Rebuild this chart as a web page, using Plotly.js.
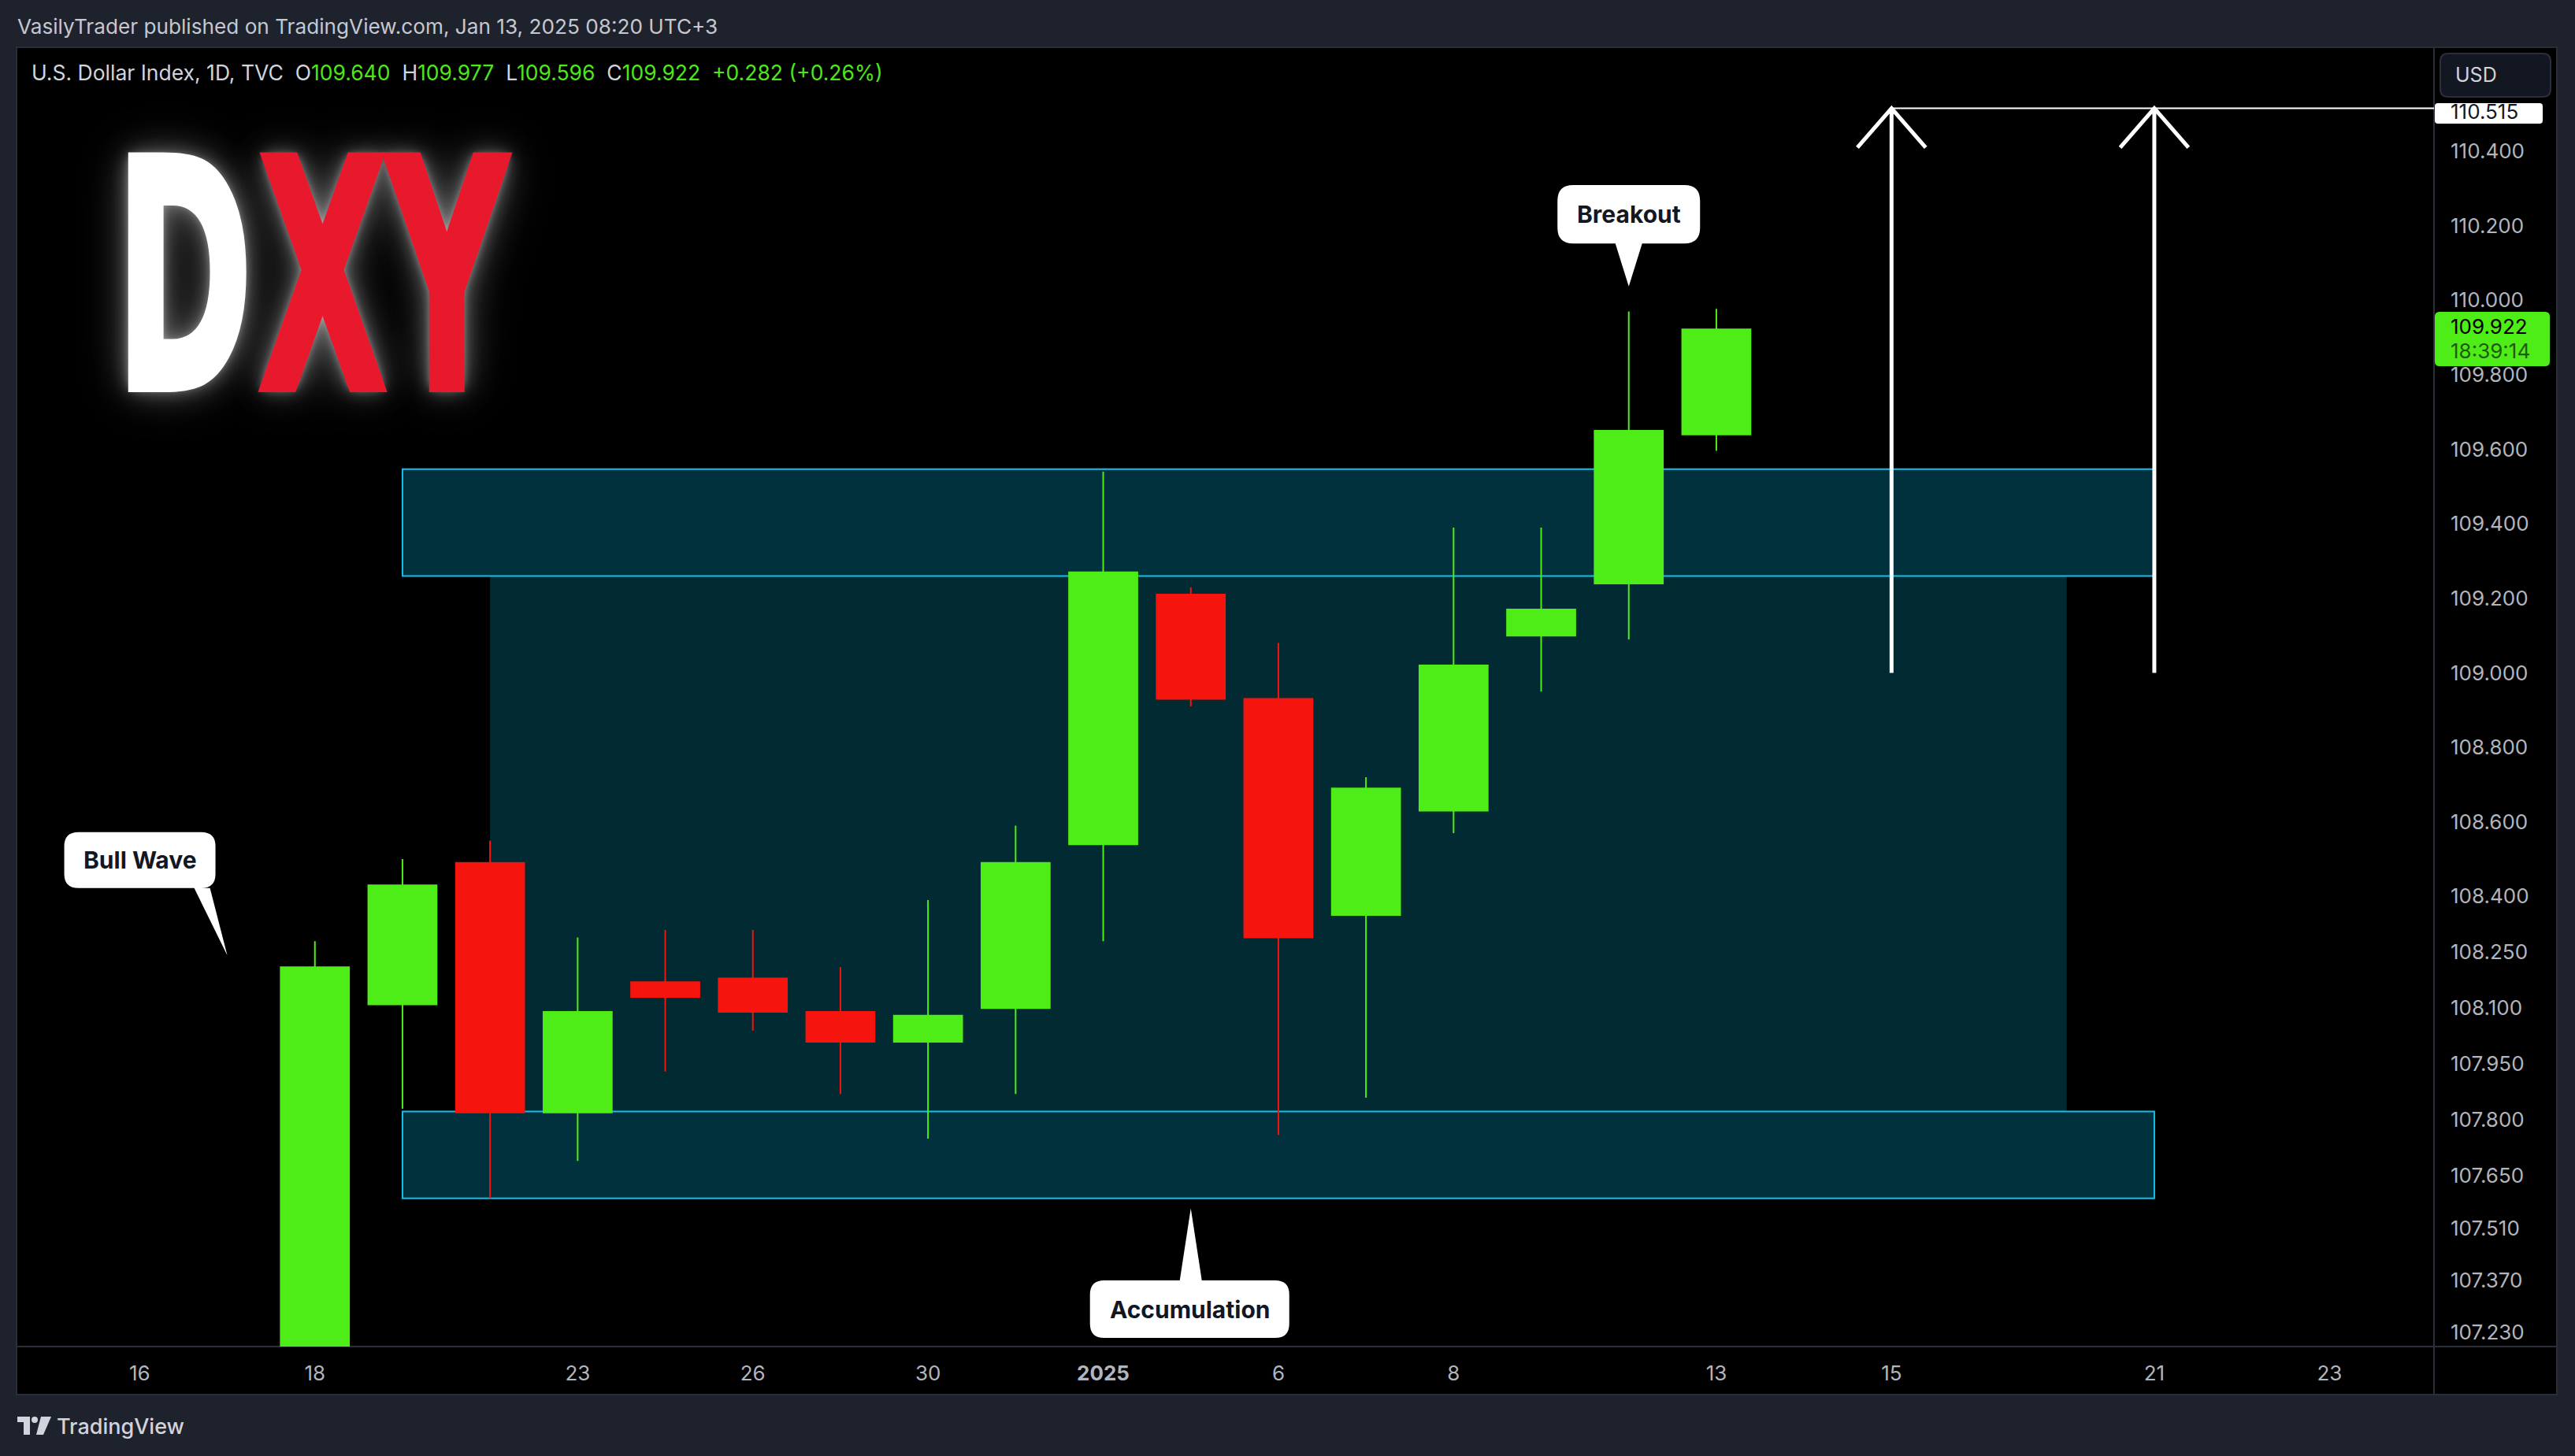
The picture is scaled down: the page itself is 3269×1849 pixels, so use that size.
<!DOCTYPE html>
<html><head><meta charset="utf-8">
<script src="https://cdn.plot.ly/plotly-3.0.1.min.js"></script>
<style>
html,body{margin:0;padding:0;background:#1e222d;overflow:hidden;}
#chart{position:absolute;left:0;top:0;width:3269px;height:1849px;}
#logo{position:absolute;left:146px;top:151px;font-family:'DejaVu Sans';font-weight:bold;font-size:404px;line-height:1;white-space:nowrap;transform:scaleX(0.522);transform-origin:0 0;-webkit-text-stroke:10px currentColor;text-shadow:0 0 14px rgba(255,255,255,0.45),0 0 34px rgba(255,255,255,0.4),0 0 70px rgba(255,255,255,0.3),0 0 100px rgba(255,255,255,0.15);pointer-events:none;}
#logo .d{color:#ffffff;margin-right:14px}
#logo .xy{color:#e8192c}
</style></head><body>
<div id="chart"></div>
<div id="logo"><span class="d">D</span><span class="xy">XY</span></div>
<script>
// ---------- data ----------
const sessions = ['2024-12-16','2024-12-17','2024-12-18','2024-12-19','2024-12-20','2024-12-23','2024-12-24','2024-12-26','2024-12-27','2024-12-30','2024-12-31','2025-01-02','2025-01-03','2025-01-06','2025-01-07','2025-01-08','2025-01-09','2025-01-10','2025-01-13','2025-01-14','2025-01-15','2025-01-16','2025-01-17','2025-01-21','2025-01-22','2025-01-23'];
const candleDates = ['2024-12-18','2024-12-19','2024-12-20','2024-12-23','2024-12-24','2024-12-26','2024-12-27','2024-12-30','2024-12-31','2025-01-02','2025-01-03','2025-01-06','2025-01-07','2025-01-08','2025-01-09','2025-01-10','2025-01-13'];
const openPx  = [106.95,108.11,108.49,107.82,108.17,108.18,108.09,108.01,108.10,108.54,109.21,108.93,108.35,108.63,109.10,109.24,109.640];
const highPx  = [108.28,108.50,108.55,108.29,108.31,108.31,108.21,108.39,108.59,109.54,109.23,109.08,108.72,109.39,109.39,109.97,109.977];
const lowPx   = [106.88,107.83,107.59,107.69,107.93,108.04,107.87,107.75,107.87,108.28,108.91,107.76,107.86,108.57,108.95,109.09,109.596];
const closePx = [108.21,108.43,107.82,108.09,108.13,108.09,108.01,108.08,108.49,109.27,108.93,108.29,108.69,109.02,109.17,109.65,109.922];
const timeTickDates  = ['2024-12-16','2024-12-18','2024-12-23','2024-12-26','2024-12-30','2025-01-02','2025-01-06','2025-01-08','2025-01-13','2025-01-15','2025-01-21','2025-01-23'];
const timeTickLabels = ['16','18','23','26','30','2025','6','8','13','15','21','23'];
const priceTicks      = [110.4,110.2,110.0,109.8,109.6,109.4,109.2,109.0,108.8,108.6,108.4,108.25,108.1,107.95,107.8,107.65,107.51,107.37,107.23];
const priceTickLabels = ['110.400','110.200','110.000','109.800','109.600','109.400','109.200','109.000','108.800','108.600','108.400','108.250','108.100','107.950','107.800','107.650','107.510','107.370','107.230'];
const resistanceZone = [109.26, 109.547];
const supportZone    = [107.59, 107.823];
const zoneDates      = ['2024-12-19','2025-01-21'];
const rangeDates     = ['2024-12-20','2025-01-17'];
const targetLevel = 110.515;
const arrowBase   = 109.0;
const arrowDates  = ['2025-01-15','2025-01-21'];
const lastPrice = '109.922', countdown = '18:39:14';

// ---------- helpers ----------
const W=3269,H=1849,L=22,R=3090,T=60,B=1710;
const px = v => (v-L)/(R-L);
const py = v => (B-v)/(B-T);
const xIdx = d => sessions.indexOf(d);
const green='#4fed17', red='#f5140e';

function rrPaper(x0,y0,x1,y1,r){
  const P=(x,y)=>px(x)+','+py(y);
  return `M${P(x0+r,y0)} L${P(x1-r,y0)} Q${P(x1,y0)} ${P(x1,y0+r)} L${P(x1,y1-r)} Q${P(x1,y1)} ${P(x1-r,y1)} L${P(x0+r,y1)} Q${P(x0,y1)} ${P(x0,y1-r)} L${P(x0,y0+r)} Q${P(x0,y0)} ${P(x0+r,y0)} Z`;
}
function bubblePath(b){
  const {x0,x1,yb,yt,r}=b; const Q=(x,y)=>x+','+y;
  let p=`M${Q(x0+r,yt)}`;
  if(b.side==='top') p+=` L${Q(b.ptr[0],yt)} L${Q(0,0)} L${Q(b.ptr[1],yt)}`;
  p+=` L${Q(x1-r,yt)} Q${Q(x1,yt)} ${Q(x1,yt-r)} L${Q(x1,yb+r)} Q${Q(x1,yb)} ${Q(x1-r,yb)}`;
  if(b.side==='bottom') p+=` L${Q(b.ptr[1],yb)} L${Q(0,0)} L${Q(b.ptr[0],yb)}`;
  p+=` L${Q(x0+r,yb)} Q${Q(x0,yb)} ${Q(x0,yb+r)} L${Q(x0,yt-r)} Q${Q(x0,yt)} ${Q(x0+r,yt)} Z`;
  return p;
}

const callouts = [
  {text:'Breakout', date:'2025-01-10', price:110.037, x0:-90.5, x1:90.5, yb:54.5, yt:128.7, r:20, side:'bottom', ptr:[-17,17]},
  {text:'Bull Wave', date:'2024-12-17', price:108.242, x0:-207, x1:-15, yb:85.4, yt:156.4, r:18, side:'bottom', ptr:[-42,-22]},
  {text:'Accumulation', date:'2025-01-03', price:107.563, x0:-128, x1:125, yb:-164.6, yt:-91.6, r:18, side:'top', ptr:[-14,14]}
];

// ---------- shapes ----------
const frame='#1e222d', sep='#2a2e39';
const shapes = [];
const pr = (x0,y0,x1,y1,fill)=>({type:'rect',xref:'paper',yref:'paper',x0:px(x0),x1:px(x1),y0:py(y0),y1:py(y1),fillcolor:fill,line:{width:0},layer:'below'});
shapes.push(pr(0,0,W,60,frame), pr(0,0,21,H,frame), pr(3246,0,W,H,frame), pr(0,1771,W,H,frame));
shapes.push({type:'rect',xref:'paper',yref:'paper',x0:px(21),x1:px(3246),y0:py(60),y1:py(1771),line:{color:sep,width:2},layer:'below'});
shapes.push({type:'line',xref:'paper',yref:'paper',x0:px(3090),x1:px(3090),y0:py(60),y1:py(1771),line:{color:sep,width:2},layer:'below'});
shapes.push({type:'line',xref:'paper',yref:'paper',x0:px(21),x1:px(3246),y0:py(1710),y1:py(1710),line:{color:sep,width:2},layer:'below'});

// zones
shapes.push({type:'rect',xref:'x',yref:'y',x0:xIdx(rangeDates[0]),x1:xIdx(rangeDates[1]),y0:supportZone[1],y1:resistanceZone[0],fillcolor:'#012a33',line:{width:0},layer:'below'});
[resistanceZone,supportZone].forEach(z=>shapes.push({type:'rect',xref:'x',yref:'y',x0:xIdx(zoneDates[0]),x1:xIdx(zoneDates[1]),y0:z[0],y1:z[1],fillcolor:'#00313d',line:{color:'#12c1eb',width:2},layer:'below'}));

// arrows and target line
const xr=[-1.397,26.193];
shapes.push({type:'line',xref:'x',yref:'y',x0:xIdx(arrowDates[0]),x1:xr[1],y0:targetLevel,y1:targetLevel,line:{color:'#ffffff',width:2},layer:'above'});
arrowDates.forEach(d=>{const x=xIdx(d);
  shapes.push({type:'path',xref:'x',yref:'y',path:`M${x},${arrowBase} L${x},${targetLevel} M${x-0.39},${targetLevel-0.105} L${x},${targetLevel} L${x+0.39},${targetLevel-0.105}`,line:{color:'#ffffff',width:5},layer:'above'});
});

// callout bubbles
const annotations=[];
callouts.forEach(c=>{
  shapes.push({type:'path',xref:'x',yref:'y',xsizemode:'pixel',ysizemode:'pixel',xanchor:xIdx(c.date),yanchor:c.price,path:bubblePath(c),fillcolor:'#ffffff',line:{width:0},layer:'above'});
  annotations.push({xref:'x',yref:'y',x:xIdx(c.date),y:c.price,xshift:(c.x0+c.x1)/2,yshift:(c.yb+c.yt)/2,text:'<b>'+c.text+'</b>',showarrow:false,xanchor:'center',yanchor:'middle',font:{family:'Inter',size:30,color:'#131722'}});
});

// price-axis labels
shapes.push({type:'path',xref:'paper',yref:'paper',path:rrPaper(3098,68,3238,123,10),fillcolor:'#131722',line:{color:sep,width:2},layer:'above'});
shapes.push({type:'path',xref:'paper',yref:'paper',path:rrPaper(3091,131,3228,157,4),fillcolor:'#ffffff',line:{width:0},layer:'above'});
shapes.push({type:'path',xref:'paper',yref:'paper',path:rrPaper(3091,396,3237,465,6),fillcolor:green,line:{width:0},layer:'above'});

// TradingView footer logo
const P=(x,y)=>px(x)+','+py(y);
shapes.push({type:'path',xref:'paper',yref:'paper',path:`M${P(22,1799)} L${P(38,1799)} L${P(38,1822)} L${P(30,1822)} L${P(30,1806)} L${P(22,1806)} Z`,fillcolor:'#d1d4dc',line:{width:0},layer:'above'});
shapes.push({type:'circle',xref:'paper',yref:'paper',x0:px(40),x1:px(48),y0:py(1799),y1:py(1807),fillcolor:'#d1d4dc',line:{width:0},layer:'above'});
shapes.push({type:'path',xref:'paper',yref:'paper',path:`M${P(52,1799)} L${P(65,1799)} L${P(55,1822)} L${P(46,1822)} Z`,fillcolor:'#d1d4dc',line:{width:0},layer:'above'});

// ---------- text annotations ----------
const A=(x,y,text,font,xanchor)=>annotations.push({xref:'paper',yref:'paper',x:px(x),y:py(y),text,showarrow:false,xanchor:xanchor||'left',yanchor:'middle',font:Object.assign({family:'Inter',size:25,color:'#d1d4dc'},font)});
A(20,34,'VasilyTrader published on TradingView.com, Jan 13, 2025 08:20 UTC+3',{size:26.2,color:'#c5c8d0'});
const g = s=>`<span style="color:#4fe61a">${s}</span>`;
A(38,92,`U.S. Dollar Index, 1D, TVC&nbsp;&nbsp;O${g(openPx[16].toFixed(3))}&nbsp;&nbsp;H${g(highPx[16].toFixed(3))}&nbsp;&nbsp;L${g(lowPx[16].toFixed(3))}&nbsp;&nbsp;C${g(closePx[16].toFixed(3))}&nbsp;&nbsp;${g('+0.282 (+0.26%)')}`,{size:26.5});
A(3115,95,'USD',{size:25,color:'#d1d4dc'});
A(3109,142,targetLevel.toFixed(3),{size:26,color:'#131722'});
A(3109,414,lastPrice,{size:26,color:'#000000'});
A(3109,446,countdown,{size:26,color:'#1f5a0c'});
A(70,1811,'TradingView',{size:27,color:'#d1d4dc',weight:500});

// ---------- trace ----------
const trace = {type:'candlestick', x:candleDates.map(xIdx), open:openPx, high:highPx, low:lowPx, close:closePx,
  increasing:{line:{color:green,width:2},fillcolor:green},
  decreasing:{line:{color:red,width:2},fillcolor:red},
  whiskerwidth:0, hoverinfo:'skip', showlegend:false};

const layout = {
  width:W, height:H, margin:{l:L,r:W-R,t:T,b:H-B}, paper_bgcolor:'#000000', plot_bgcolor:'#000000',
  showlegend:false, boxgap:0.22, boxgroupgap:0,
  xaxis:{range:xr, showgrid:false, zeroline:false, showline:false, ticks:'', tickvals:timeTickDates.map(xIdx),
    ticktext:timeTickLabels.map(t=>t==='2025'?'<b>2025</b>':t), tickfont:{family:'Inter',size:26,color:'#b2b5be'},
    ticklabelstandoff:16, rangeslider:{visible:false}, fixedrange:true},
  yaxis:{range:[107.192,110.679], side:'right', showgrid:false, zeroline:false, showline:false, ticks:'',
    tickvals:priceTicks, ticktext:priceTickLabels, tickfont:{family:'Inter',size:26,color:'#b2b5be'},
    ticklabelstandoff:20, fixedrange:true},
  shapes, annotations
};
Plotly.newPlot('chart',[trace],layout,{staticPlot:true,displayModeBar:false});
</script></body></html>
